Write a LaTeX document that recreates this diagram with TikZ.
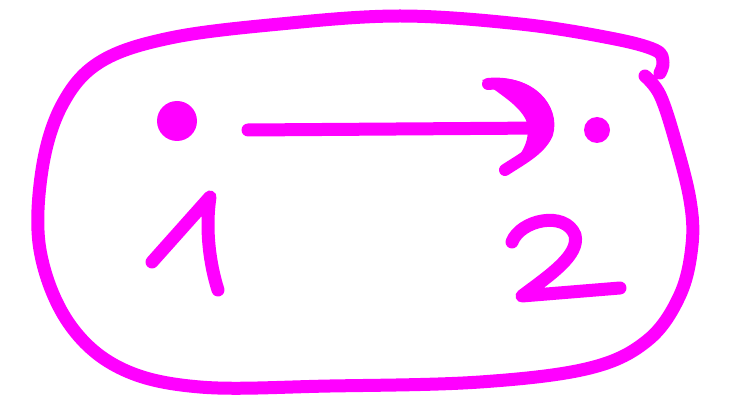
\documentclass[tikz,border=0pt]{standalone}
\definecolor{pen}{RGB}{255,0,255}
\begin{document}
\begin{tikzpicture}[x=1pt,y=-1pt,
  ink/.style={draw=pen,line width=13pt,line cap=round,line join=round},
  dotmark/.style={circle,fill=pen,inner sep=0pt}]
\useasboundingbox (0,0) rectangle (745,414);
% outer blob
\draw[ink] plot[smooth,tension=0.6] coordinates {
 (645,76) (660,95) (675,140) (690,200) (692,245) (680,295) (648,340) (590,368)
 (480,382) (330,386) (200,387) (120,368) (68,322) (40,250) (42,170) (62,105)
 (100,62) (170,38) (280,24) (400,16) (520,24) (610,38) (655,50) (663,62) (660,73)};
% dots
\node[dotmark,minimum size=40pt] (d1) at (177,121) {};
\node[dotmark,minimum size=26pt] (d2) at (597,130) {};
% arrow shaft
\coordinate (a1) at (248,130);
\coordinate (a2) at (545,128);
\draw[ink] (a1) -- (a2);
% arrow head (hand drawn curl)
\fill[pen] (482,80) .. controls (530,70) and (565,105) .. (550,140)
  .. controls (542,155) and (520,165) .. (505,172)
  .. controls (522,155) and (532,140) .. (526,120)
  .. controls (518,104) and (500,95) .. (482,80) -- cycle;
\draw[draw=pen,line width=12pt,line cap=round,line join=round]
  (488,84) .. controls (528,80) and (555,108) .. (547,134) .. controls (540,150) and (520,160) .. (505,170);
% digit 1
\draw[ink] (152,262) -- (210,197) .. controls (205,230) and (210,265) .. (218,290);
% digit 2
\draw[ink] (512,242) .. controls (520,220) and (565,210) .. (575,235)
  .. controls (580,255) and (550,275) .. (522,296) -- (620,288);
\end{tikzpicture}
\end{document}
